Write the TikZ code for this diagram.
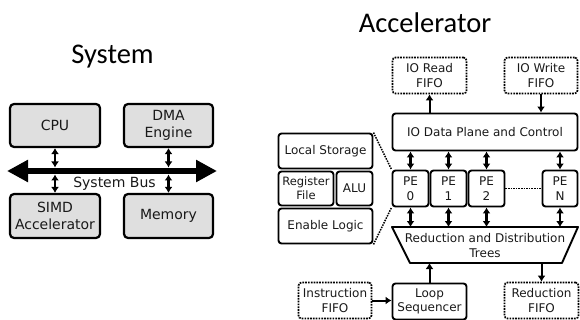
\documentclass[tikz,border=0pt]{standalone}
\usepackage{fontspec}
\setmainfont{DejaVu Sans}
\newfontfamily\titlefont{Carlito}
\usetikzlibrary{arrows.meta}
\begin{document}
\begin{tikzpicture}[x=1pt,y=-1pt,
  sysbox/.style={draw, line width=2.2pt, rounded corners=4pt, fill=gray!25,
    inner sep=0pt, align=center, text=black!90, font=\fontsize{14}{17}\selectfont},
  accbox/.style={draw, line width=1.9pt, rounded corners=3pt, inner sep=0pt,
    align=center, text=black!90, font=\fontsize{12}{14.5}\selectfont},
  fifobox/.style={accbox, line width=1.7pt, dash pattern=on 1.7pt off 1.1pt},
  biarrow/.style={line width=2.2pt, {Latex[length=6pt,width=8pt]}-{Latex[length=6pt,width=8pt]}},
  uniarrow/.style={line width=2pt, -{Latex[length=6pt,width=8pt]}},
  title/.style={font=\titlefont\fontsize{28.5}{34}\selectfont, anchor=base},
  linkdots/.style={line width=1.5pt, dash pattern=on 1.5pt off 1.1pt}
]
\useasboundingbox (0,0) rectangle (580,320);

% ---------------- System ----------------
\node[title] (systitle) at (112.5,64) {System};

\node[sysbox, minimum width=90pt, minimum height=43pt] (cpu)  at (55,125.5)   {CPU};
\node[sysbox, minimum width=89pt, minimum height=43pt] (dma)  at (168.5,125.5) {DMA\\Engine};
\node[sysbox, minimum width=90pt, minimum height=44pt] (simd) at (55,216)     {SIMD\\Accelerator};
\node[sysbox, minimum width=89pt, minimum height=44pt] (mem)  at (168.5,216)  {Memory};

% the bus
\coordinate (busL) at (7,171);
\coordinate (busR) at (217,171);
\draw[line width=6pt, {Triangle[length=21pt,width=21pt]}-{Triangle[length=21pt,width=21pt]}]
  (busL) -- (busR);
\node[font=\fontsize{14}{17}\selectfont, text=black!90] (buslabel) at (114.5,183.5) {System Bus};

% taps onto the bus
\coordinate (cpuTap)  at (55,167.5);
\coordinate (simdTap) at (55,174.5);
\coordinate (dmaTap)  at (168.5,167.5);
\coordinate (memTap)  at (168.5,174.5);
\draw[biarrow] (cpu.south) -- (cpuTap);
\draw[biarrow] (simdTap) -- (simd.north);
\draw[biarrow] (dma.south) -- (dmaTap);
\draw[biarrow] (memTap) -- (mem.north);

% ---------------- Accelerator ----------------
\node[title] (acctitle) at (425,33) {Accelerator};

\node[fifobox, minimum width=74pt, minimum height=36pt] (ioread)  at (429.5,75.5) {IO Read\\FIFO};
\node[fifobox, minimum width=73pt, minimum height=36pt] (iowrite) at (541,75.5)   {IO Write\\FIFO};
\node[accbox, minimum width=185pt, minimum height=37pt] (iodp)   at (485,132)    {IO Data Plane and Control};

\draw[uniarrow] (iodp.north -| ioread) -- (ioread.south);
\draw[uniarrow] (iowrite.south) -- (iodp.north -| iowrite);

% processing elements
\node[accbox, minimum width=36pt, minimum height=36pt] (pe0) at (410.5,188.5) {PE\\0};
\node[accbox, minimum width=36pt, minimum height=36pt] (pe1) at (448.5,188.5) {PE\\1};
\node[accbox, minimum width=36pt, minimum height=36pt] (pe2) at (486.5,188.5) {PE\\2};
\node[accbox, minimum width=35pt, minimum height=36pt] (peN) at (560,188.5)   {PE\\N};
\draw[linkdots] (pe2.east) -- (peN.east -| peN.west);

% reduction / distribution trees
\draw[line width=1.9pt, line join=round] (392,227) -- (578,227) -- (562,263) -- (410,263) -- cycle;
\node[align=center, text=black!90, font=\fontsize{12}{14.5}\selectfont] (tree) at (485,245.5)
  {Reduction and Distribution\\Trees};
\coordinate (treeTop) at (485,227);
\coordinate (treeBot) at (485,263);

\foreach \p in {pe0,pe1,pe2,peN}{
  \draw[biarrow] (iodp.south -| \p) -- (\p.north);
  \draw[biarrow] (\p.south) -- (\p.south |- treeTop);
}

% inside of a processing element
\node[accbox, minimum width=94pt, minimum height=35pt] (lstore) at (325.5,151)  {Local Storage};
\node[accbox, minimum width=55pt, minimum height=34pt, font=\fontsize{11.5}{14}\selectfont] (regf) at (306,188.5) {Register\\File};
\node[accbox, minimum width=36pt, minimum height=34pt] (alu)    at (354.5,188.5) {ALU};
\node[accbox, minimum width=94pt, minimum height=35pt] (enable) at (325.5,226)  {Enable Logic};
\draw[linkdots] (lstore.north east) -- (pe0.north west);
\draw[linkdots] (enable.south east) -- (pe0.south west);

% control path
\node[accbox,  minimum width=74pt, minimum height=36pt] (loop)   at (429.5,301.5) {Loop\\Sequencer};
\node[fifobox, minimum width=73pt, minimum height=36pt] (instr)  at (335,300.5)   {Instruction\\FIFO};
\node[fifobox, minimum width=74pt, minimum height=36pt] (redfifo) at (541.5,300.5) {Reduction\\FIFO};

\draw[uniarrow] (loop.north) -- (loop.north |- treeBot);
\draw[uniarrow] (redfifo.north |- treeBot) -- (redfifo.north);
\draw[uniarrow] (instr.east) -- (instr.east -| loop.west);
\end{tikzpicture}
\end{document}
